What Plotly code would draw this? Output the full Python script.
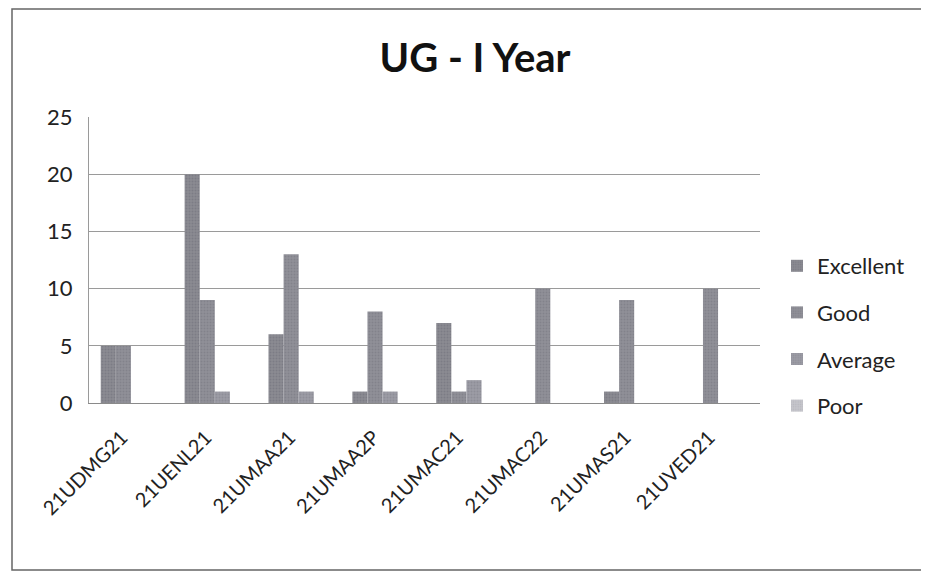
import plotly.graph_objects as go

categories = ["21UDMG21", "21UENL21", "21UMAA21", "21UMAA2P",
              "21UMAC21", "21UMAC22", "21UMAS21", "21UVED21"]
excellent = [5, 20, 6, 1, 7, 0, 1, 0]
good = [5, 9, 13, 8, 1, 10, 9, 10]
average = [0, 1, 1, 1, 2, 0, 0, 0]
poor = [0, 0, 0, 0, 0, 0, 0, 0]
y_ticks = [0, 5, 10, 15, 20, 25]

series = [("Excellent", excellent, "#8a8a92", "#6e6e78"),
          ("Good", good, "#909098", "#74747e"),
          ("Average", average, "#9c9ca4", "#80808a"),
          ("Poor", poor, "#c6c6cc", "#a8a8b0")]

FONT = "Lato, 'Open Sans', sans-serif"

fig = go.Figure()
for name, vals, col, fg in series:
    fig.add_trace(go.Bar(
        x=categories, y=vals, name=name, legendgroup=name,
        marker=dict(color=col, line=dict(width=0),
                    pattern=dict(shape=".", size=3, solidity=0.35,
                                 fgcolor=fg, bgcolor=col)),
    ))

# page is offset by 8px (body margin); figure sized to fill the rest
W, H = 921, 565
L, R, T, B = 81, 169, 109, 170
pw, ph = W - L - R, H - T - B

fig.update_layout(
    width=W, height=H,
    margin=dict(l=L, r=R, t=T, b=B),
    paper_bgcolor="white", plot_bgcolor="white",
    barmode="group", bargap=0.28, bargroupgap=0,
    font=dict(family=FONT, color="#222222"),
    title=dict(text="<b>UG - I Year</b>", x=467 / W, xanchor="center",
               y=1 - 50 / H, yanchor="middle",
               font=dict(size=40, family=FONT, color="#111111")),
    legend=dict(x=(769 - L) / pw, y=(395 - 237) / ph, xanchor="left", yanchor="top",
                font=dict(size=22, family=FONT, color="#222222"),
                traceorder="grouped", tracegroupgap=15,
                bgcolor="rgba(0,0,0,0)", itemwidth=30),
    showlegend=True,
)
fig.update_xaxes(
    tickangle=-45, tickfont=dict(size=20, family=FONT, color="#222222"),
    showline=True, linecolor="#8a8a8a", linewidth=1, showgrid=False,
    ticks="", ticklabelshift=-9, ticklabelstandoff=14,
)
fig.update_yaxes(
    range=[0, 25], tickvals=y_ticks, ticktext=[str(v) for v in y_ticks],
    tickfont=dict(size=22, family=FONT, color="#222222"),
    showgrid=True, gridcolor="#9a9a9a", gridwidth=1,
    showline=True, linecolor="#9a9a9a", linewidth=1,
    zeroline=False, ticks="", ticklabelstandoff=11,
)
# outer chart frame
fig.add_shape(type="rect", xref="paper", yref="paper",
              x0=(4 - L) / pw, x1=(921 - L) / pw,
              y0=(H - B - 562) / ph, y1=(H - B - 1) / ph,
              line=dict(color="#666666", width=1.5), fillcolor="rgba(0,0,0,0)",
              layer="below")

fig.write_html("out.html")
